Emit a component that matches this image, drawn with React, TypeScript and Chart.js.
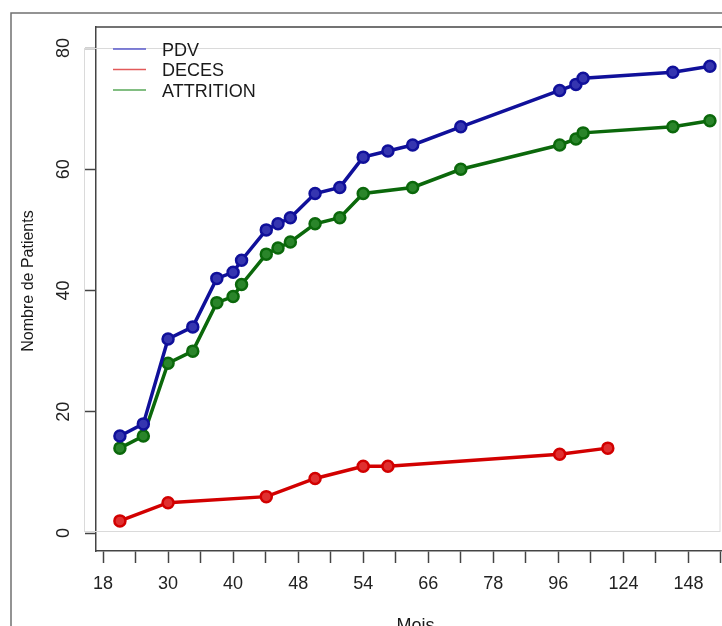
import React, { useEffect, useRef } from "react";
import { Chart, registerables } from "chart.js";

Chart.register(...registerables);

// Tick labels of the x axis (months), placed at evenly spaced positions 0..9
const xTickLabels = ["18", "30", "40", "48", "54", "66", "78", "96", "124", "148"];
const yTickValues = [0, 20, 40, 60, 80];

// Positions along the x axis (tick-index units)
const pdvX = [0.26, 0.62, 1.0, 1.38, 1.75, 2.0, 2.13, 2.51, 2.69, 2.88, 3.26, 3.64, 4.0, 4.38, 4.76, 5.5, 7.02, 7.27, 7.38, 8.76, 9.33];
const pdvY = [16, 18, 32, 34, 42, 43, 45, 50, 51, 52, 56, 57, 62, 63, 64, 67, 73, 74, 75, 76, 77];

const decesX = [0.26, 1.0, 2.51, 3.26, 4.0, 4.38, 7.02, 7.76];
const decesY = [2, 5, 6, 9, 11, 11, 13, 14];

const attrX = [0.26, 0.62, 1.0, 1.38, 1.75, 2.0, 2.13, 2.51, 2.69, 2.88, 3.26, 3.64, 4.0, 4.76, 5.5, 7.02, 7.27, 7.38, 8.76, 9.33];
const attrY = [14, 16, 28, 30, 38, 39, 41, 46, 47, 48, 51, 52, 56, 57, 60, 64, 65, 66, 67, 68];

const seriesNames = ["PDV", "DECES", "ATTRITION"];
const lineColors = ["#10109a", "#d20000", "#0b680b"];
const pointFill = ["#3535b0", "#e03030", "#2a852a"];
const legendColors = ["#5a5acc", "#e25a5a", "#58a858"];

const FONT = '"Liberation Sans", Arial, sans-serif';

const decor = {
  id: "decor",
  beforeDatasetsDraw(chart: any) {
    const { ctx, scales } = chart;
    const y = scales.y;
    ctx.save();
    const top = Math.round(y.getPixelForValue(80)) + 0.5;
    const bot = Math.round(y.getPixelForValue(0)) - 1.5;
    ctx.strokeStyle = "#dadada";
    ctx.lineWidth = 1;
    ctx.strokeRect(84.5, top, 720 - 84.5, bot - top);
    ctx.restore();
  },
  afterDraw(chart: any) {
    const { ctx, chartArea: a } = chart;
    ctx.save();
    // outer frame
    ctx.strokeStyle = "#707070";
    ctx.lineWidth = 1.5;
    ctx.beginPath();
    ctx.moveTo(722, 13);
    ctx.lineTo(11, 13);
    ctx.lineTo(11, 626);
    ctx.stroke();
    // top line of plot box
    ctx.strokeStyle = "#444";
    ctx.beginPath();
    ctx.moveTo(a.left, a.top);
    ctx.lineTo(722, a.top);
    ctx.stroke();
    // legend
    const ys = [49, 69.5, 90];
    const bases = [55.5, 76, 96.5];
    ctx.font = `18px ${FONT}`;
    ctx.textBaseline = "alphabetic";
    ctx.textAlign = "left";
    seriesNames.forEach((n, i) => {
      ctx.strokeStyle = legendColors[i];
      ctx.lineWidth = 1.5;
      ctx.beginPath();
      ctx.moveTo(113, ys[i]);
      ctx.lineTo(146, ys[i]);
      ctx.stroke();
      ctx.fillStyle = "#1a1a1a";
      ctx.fillText(n, 162, bases[i]);
    });
    // axis titles
    ctx.fillStyle = "#1a1a1a";
    ctx.font = `18px ${FONT}`;
    ctx.textAlign = "center";
    ctx.fillText("Mois", 415.5, 631);
    ctx.save();
    ctx.translate(33, 281);
    ctx.rotate(-Math.PI / 2);
    ctx.font = `16px ${FONT}`;
    ctx.fillText("Nombre de Patients", 0, 0);
    ctx.restore();
    ctx.restore();
  },
};

const toPts = (xs: number[], ys: number[]) => xs.map((x, i) => ({ x, y: ys[i] }));

export default function App() {
  const ref = useRef<HTMLCanvasElement | null>(null);
  useEffect(() => {
    if (!ref.current) return;
    const pxPerUnit = 65.05;
    const yPx = 6.0625;
    const datas = [toPts(pdvX, pdvY), toPts(decesX, decesY), toPts(attrX, attrY)];
    const chart = new Chart(ref.current, {
      type: "line",
      data: {
        datasets: datas.map((d, i) => ({
          label: seriesNames[i],
          data: d,
          borderColor: lineColors[i],
          backgroundColor: pointFill[i],
          borderWidth: 3.5,
          pointRadius: 5.5,
          pointBorderWidth: 2.5,
          pointBackgroundColor: pointFill[i],
          pointBorderColor: lineColors[i],
          tension: 0,
          fill: false,
        })),
      },
      options: {
        responsive: false,
        animation: false,
        devicePixelRatio: 1,
        layout: { autoPadding: false, padding: { top: 27, left: 0, right: 0, bottom: 0 } },
        plugins: { legend: { display: false }, tooltip: { enabled: false } },
        scales: {
          x: {
            type: "linear",
            min: -7 / pxPerUnit,
            max: 9.5 + 1 / pxPerUnit,
            afterBuildTicks: (s: any) => {
              const t = [];
              for (let i = 0; i <= 19; i++) t.push({ value: i * 0.5 });
              s.ticks = t;
            },
            afterFit: (s: any) => {
              s.height = 75;
              s.paddingLeft = 0;
              s.paddingRight = 0;
            },
            ticks: {
              autoSkip: false,
              maxRotation: 0,
              minRotation: 0,
              padding: 10,
              color: "#222",
              font: { family: FONT, size: 18 },
              callback: (v: any) => (Number.isInteger(v) ? xTickLabels[v] : ""),
            },
            grid: { drawOnChartArea: false, tickLength: 12, tickColor: "#444", tickWidth: 1.5 },
            border: { display: true, color: "#444", width: 1.5 },
          },
          y: {
            type: "linear",
            min: -18 / yPx,
            max: 80 + 21 / yPx,
            afterBuildTicks: (s: any) => {
              s.ticks = yTickValues.map((v) => ({ value: v }));
            },
            afterFit: (s: any) => {
              s.width = 96;
              s.paddingTop = 0;
              s.paddingBottom = 0;
            },
            ticks: {
              minRotation: 90,
              maxRotation: 90,
              crossAlign: "center",
              padding: 11,
              color: "#222",
              font: { family: FONT, size: 18 },
            },
            grid: { drawOnChartArea: false, tickLength: 11, tickColor: "#444", tickWidth: 1.5 },
            border: { display: true, color: "#444", width: 1.5 },
          },
        },
      },
      plugins: [decor],
    } as any);
    return () => chart.destroy();
  }, []);
  return (
    <div style={{ position: "absolute", left: 0, top: 0, width: 722, height: 626, background: "#fff" }}>
      <canvas ref={ref} width={722} height={626} style={{ display: "block", width: 722, height: 626 }} />
    </div>
  );
}
